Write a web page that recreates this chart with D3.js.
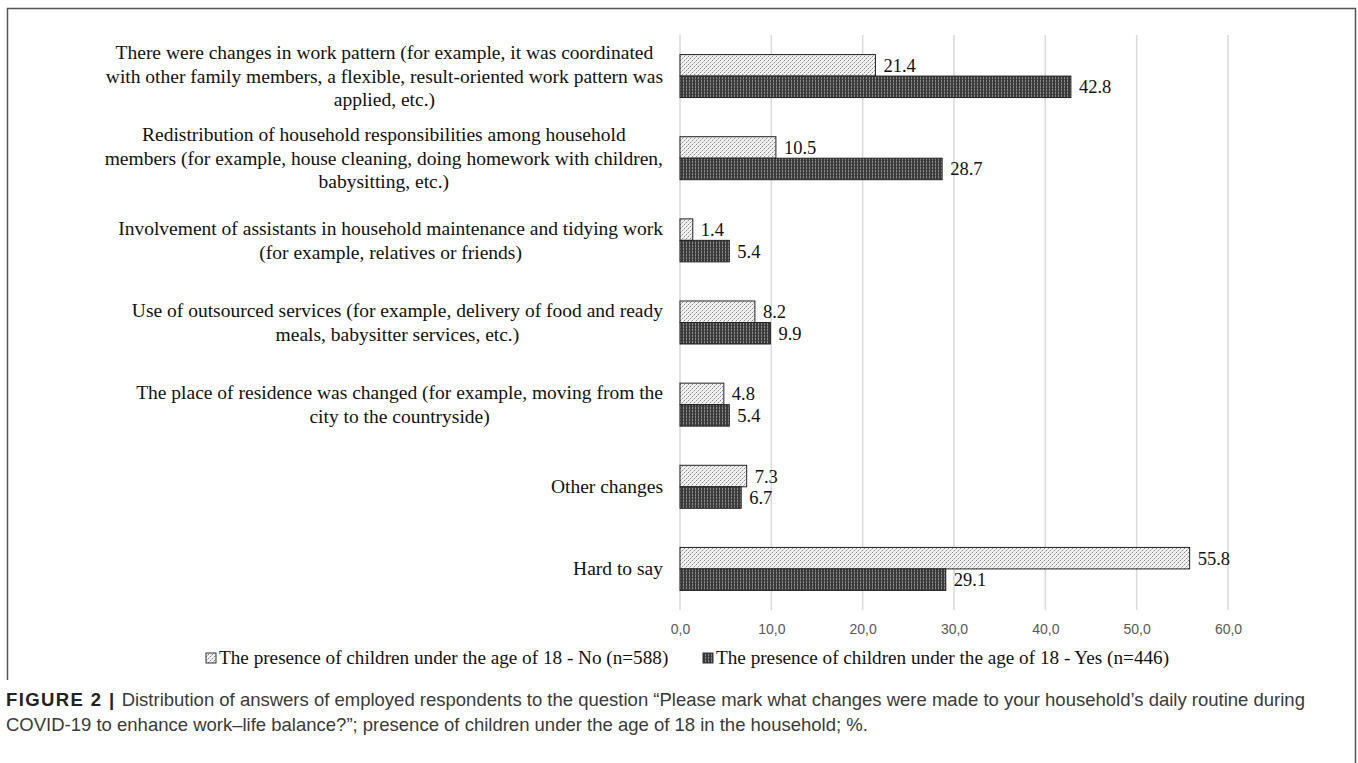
<!DOCTYPE html>
<html>
<head>
<meta charset="utf-8">
<script src="https://cdn.jsdelivr.net/npm/d3@7"></script>
<style>
  body { margin: 0; background: #fff; }
  svg { display: block; }
</style>
</head>
<body>
<div id="chart"></div>
<script>
// categories, each split in lines as in the figure
let categories = [
  ["There were changes in work pattern (for example, it was coordinated",
   "with other family members, a flexible, result-oriented work pattern was",
   "applied, etc.)"],
  ["Redistribution of household responsibilities among household",
   "members (for example, house cleaning, doing homework with children,",
   "babysitting, etc.)"],
  ["Involvement of assistants in household maintenance and tidying work",
   "(for example, relatives or friends)"],
  ["Use of outsourced services (for example, delivery of food and ready",
   "meals, babysitter services, etc.)"],
  ["The place of residence was changed (for example, moving from the",
   "city to the countryside)"],
  ["Other changes"],
  ["Hard to say"]
];
let seriesNames = [
  "The presence of children under the age of 18 - No (n=588)",
  "The presence of children under the age of 18 - Yes (n=446)"
];
let valuesNo  = [21.4, 10.5, 1.4, 8.2, 4.8, 7.3, 55.8];
let valuesYes = [42.8, 28.7, 5.4, 9.9, 5.4, 6.7, 29.1];
let ticks = [0, 10, 20, 30, 40, 50, 60];

const width = 1358, height = 763;
const labelFont = "'Liberation Serif', 'Times New Roman', serif";
const sansFont = "'Liberation Sans', Arial, sans-serif";

let svg = d3.select("#chart").append("svg")
  .attr("width", width)
  .attr("height", height);

// patterns
let defs = svg.append("defs");
let pNo = defs.append("pattern")
  .attr("id", "patNo")
  .attr("patternUnits", "userSpaceOnUse")
  .attr("width", 4).attr("height", 4);
pNo.append("rect").attr("width", 4).attr("height", 4).attr("fill", "#f2f2f2");
pNo.append("rect").attr("x", 0).attr("y", 0).attr("width", 1).attr("height", 1).attr("fill", "#888");
pNo.append("rect").attr("x", 2).attr("y", 2).attr("width", 1).attr("height", 1).attr("fill", "#888");
pNo.append("rect").attr("x", 3).attr("y", 1).attr("width", 1).attr("height", 1).attr("fill", "#c4c4c4");
pNo.append("rect").attr("x", 1).attr("y", 3).attr("width", 1).attr("height", 1).attr("fill", "#c4c4c4");

let pYes = defs.append("pattern")
  .attr("id", "patYes")
  .attr("patternUnits", "userSpaceOnUse")
  .attr("width", 3).attr("height", 3);
pYes.append("rect").attr("width", 3).attr("height", 3).attr("fill", "#8a8a8a");
pYes.append("rect").attr("width", 2).attr("height", 3).attr("fill", "#3a3a3a");
pYes.append("rect").attr("x", 2).attr("y", 1).attr("width", 1).attr("height", 1).attr("fill", "#555");

// frame
svg.append("path")
  .attr("d", "M7.5,680 L7.5,8.5 L1355.5,8.5 L1355.5,763")
  .attr("fill", "none")
  .attr("stroke", "#555")
  .attr("stroke-width", 1.5);

let x = d3.scaleLinear().domain([0, 60]).range([680, 1228]);
let y = d3.scaleBand().domain(d3.range(categories.length)).range([35, 610]);
const barH = 21.5;

// grid
svg.append("g")
  .selectAll("line")
  .data(ticks)
  .enter()
  .append("line")
  .attr("x1", d => x(d)).attr("x2", d => x(d))
  .attr("y1", 35).attr("y2", 610)
  .attr("stroke", "#d9d9d9")
  .attr("stroke-width", 1.5);

// x axis labels
let xAxis = d3.axisBottom(x).tickValues(ticks).tickSize(0).tickPadding(0)
  .tickFormat(d => d3.format(".1f")(d).replace(".", ","));
let gx = svg.append("g").attr("transform", "translate(0,624)").call(xAxis);
gx.select(".domain").remove();
gx.selectAll("text")
  .attr("font-family", sansFont)
  .attr("font-size", 14)
  .attr("fill", "#595959");

// bars
let groups = svg.append("g")
  .selectAll("g")
  .data(categories.map((c, i) => ({ i: i, no: valuesNo[i], yes: valuesYes[i] })))
  .enter()
  .append("g");

let center = i => y(i) + y.bandwidth() / 2;

groups.append("rect")
  .attr("x", x(0))
  .attr("y", d => center(d.i) - barH)
  .attr("width", d => x(d.no) - x(0))
  .attr("height", barH)
  .attr("fill", "url(#patNo)")
  .attr("stroke", "#222")
  .attr("stroke-width", 1);

groups.append("rect")
  .attr("x", x(0))
  .attr("y", d => center(d.i))
  .attr("width", d => x(d.yes) - x(0))
  .attr("height", barH)
  .attr("fill", "url(#patYes)")
  .attr("stroke", "#222")
  .attr("stroke-width", 1);

groups.append("text")
  .attr("x", d => x(d.no) + 8)
  .attr("y", d => center(d.i) - barH / 2 + 6.5)
  .attr("font-family", labelFont)
  .attr("font-size", 18.5)
  .attr("fill", "#111")
  .text(d => d.no.toFixed(1));

groups.append("text")
  .attr("x", d => x(d.yes) + 8)
  .attr("y", d => center(d.i) + barH / 2 + 6.5)
  .attr("font-family", labelFont)
  .attr("font-size", 18.5)
  .attr("fill", "#111")
  .text(d => d.yes.toFixed(1));

// category labels: block right aligned at the axis, lines centred in the block
const lineH = 23.5;
categories.forEach(function(lines, i) {
  let g = svg.append("g");
  let texts = lines.map(function(line, k) {
    return g.append("text")
      .attr("y", center(i) + (k - (lines.length - 1) / 2) * lineH + 6.5)
      .attr("font-family", labelFont)
      .attr("font-size", 19.5)
      .attr("fill", "#111")
      .attr("text-anchor", "middle")
      .text(line);
  });
  let maxW = d3.max(texts, t => t.node().getComputedTextLength());
  texts.forEach(t => t.attr("x", 663 - maxW / 2));
});

// legend
let legendData = [
  { name: seriesNames[0], fill: "url(#patNo)", x: 206 },
  { name: seriesNames[1], fill: "url(#patYes)", x: 703 }
];
let legend = svg.selectAll(".legend")
  .data(legendData)
  .enter()
  .append("g")
  .attr("class", "legend")
  .attr("transform", d => "translate(" + d.x + ",664)");
legend.append("rect")
  .attr("x", 0).attr("y", -11)
  .attr("width", 10).attr("height", 10)
  .attr("fill", d => d.fill)
  .attr("stroke", "#333")
  .attr("stroke-width", 1);
legend.append("text")
  .attr("x", 13)
  .attr("y", 0)
  .attr("font-family", labelFont)
  .attr("font-size", 19.2)
  .attr("fill", "#111")
  .text(d => d.name);

// caption
let cap1 = svg.append("text")
  .attr("x", 6).attr("y", 706)
  .attr("font-family", sansFont)
  .attr("font-size", 18.5)
  .attr("fill", "#3a3a3a");
cap1.append("tspan").attr("font-weight", "bold").attr("fill", "#222")
  .attr("letter-spacing", 1.4).text("FIGURE 2 |");
cap1.append("tspan").attr("dx", 6).text("Distribution of answers of employed respondents to the question \u201cPlease mark what changes were made to your household\u2019s daily routine during");
svg.append("text")
  .attr("x", 6).attr("y", 731)
  .attr("font-family", sansFont)
  .attr("font-size", 18.5)
  .attr("fill", "#3a3a3a")
  .text("COVID-19 to enhance work\u2013life balance?\u201d; presence of children under the age of 18 in the household; %.");
</script>
</body>
</html>
